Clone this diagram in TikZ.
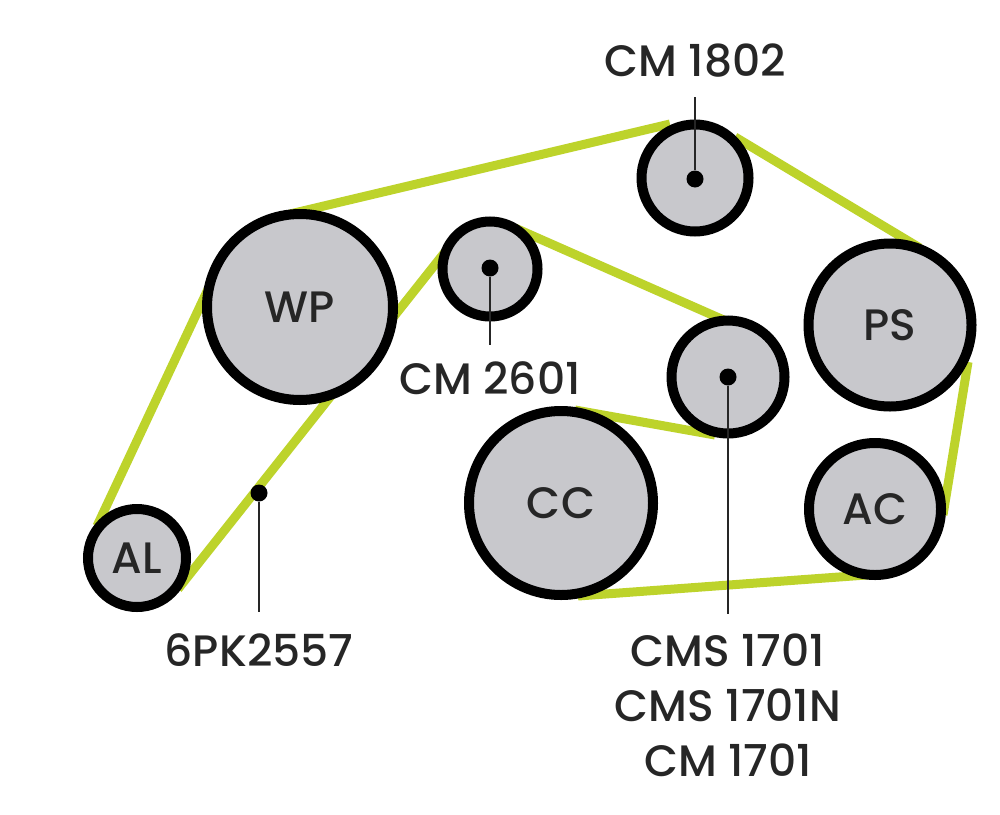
\documentclass[tikz,border=0pt]{standalone}
\usepackage{fontspec}
\usetikzlibrary{calc}
\setmainfont{Poppins Medium}
\definecolor{belt}{HTML}{BDD32B}
\definecolor{pul}{HTML}{C8C8CC}
\definecolor{ink}{HTML}{262626}
\tikzset{
 pulley/.style={circle,draw=black,line width=10pt,fill=pul,inner sep=0pt,minimum size=#1,font=\fontsize{44}{50}\selectfont,text=ink},
 beltline/.style={draw=belt,line width=9pt},
 dotm/.style={circle,fill=black,inner sep=0pt,minimum size=17pt},
 lead/.style={draw=ink,line width=2.5pt},
 lab/.style={font=\fontsize{44}{55}\selectfont,text=ink,align=center,inner sep=0pt}
}
\begin{document}
\begin{tikzpicture}[x=1pt,y=-1pt]
\useasboundingbox (0,0) rectangle (1000,814);
\coordinate (b1) at (290,214);
\coordinate (b2) at (670,124);
\coordinate (b3) at (735,137);
\coordinate (b4) at (920,248);
\coordinate (b5) at (968,362);
\coordinate (b6) at (943,515);
\coordinate (b7) at (880,574);
\coordinate (b8) at (578,596);
\coordinate (b9) at (575,410);
\coordinate (b10) at (715,435);
\coordinate (b11) at (735,325);
\coordinate (b12) at (515,228);
\coordinate (b13) at (445,252);
\coordinate (b14) at (178,589);
\coordinate (b15) at (97,526);
\coordinate (b16) at (210,285);
\draw[beltline] (b1)--(b2) (b3)--(b4) (b5)--(b6) (b7)--(b8) (b9)--(b10) (b11)--(b12) (b13)--(b14) (b15)--(b16);
\node[pulley=107pt] (cm18) at (695,178) {};
\node[pulley=95pt] (cm26) at (490,269) {};
\node[pulley=186pt] (wp) at (300,307) {WP};
\node[pulley=163pt] (ps) at (890,325) {PS};
\node[pulley=113pt] (cm17) at (728,377) {};
\node[pulley=184pt] (cc) at (561,503) {CC};
\node[pulley=132pt] (ac) at (875,509) {AC};
\node[pulley=98pt] (al) at (137,558) {AL};
\node[dotm] (d1) at (695,179) {};
\node[dotm] (d2) at (490,268) {};
\node[dotm] (d3) at (728,377) {};
\node[dotm] (d4) at (259,493) {};
\node[lab] (t1) at (695,61) {CM 1802};
\node[lab] (t2) at (490,378) {CM 2601};
\node[lab] (t3) at (259,650) {6PK2557};
\node[lab] (t4) at (728,705) {CMS 1701\\CMS 1701N\\CM 1701};
\coordinate (e1) at (695,97);
\coordinate (e2) at (490,345);
\coordinate (e3) at (728,614);
\coordinate (e4) at (259,612);
\draw[lead] (e1) -- (d1);
\draw[lead] (d2) -- (e2);
\draw[lead] (d3) -- (e3);
\draw[lead] (d4) -- (e4);
\end{tikzpicture}
\end{document}
